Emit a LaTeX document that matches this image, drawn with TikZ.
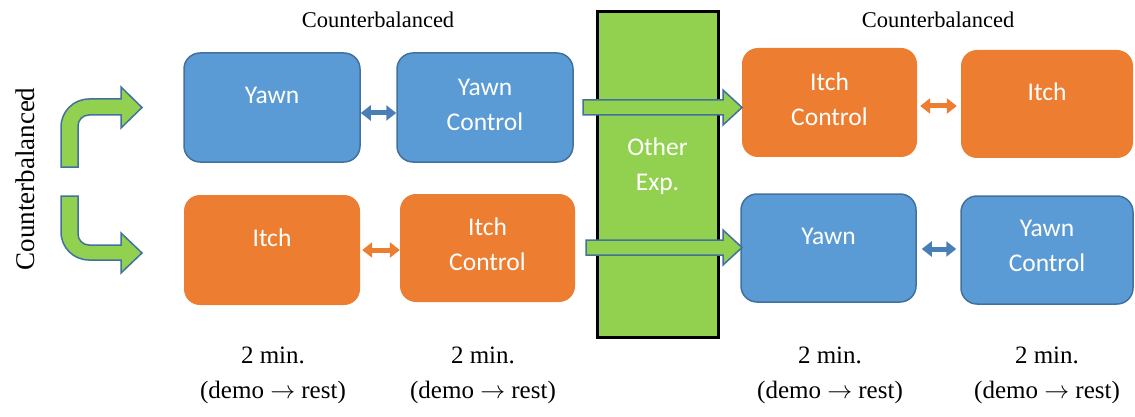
\documentclass[tikz,border=0pt]{standalone}
\usepackage{fontspec}
\setmainfont{Liberation Serif}
\newfontfamily\boxfont{Carlito}
\usetikzlibrary{arrows.meta,calc}
\definecolor{bfill}{HTML}{5B9BD5}
\definecolor{bline}{HTML}{41719C}
\definecolor{barr}{HTML}{4A7FB5}
\definecolor{ofill}{HTML}{ED7D31}
\definecolor{gfill}{HTML}{92D050}
\begin{document}
\begin{tikzpicture}[x=1pt,y=-1pt,
  box/.style={rounded corners=16pt, inner sep=0pt},
  bluebox/.style={box, fill=bfill, draw=bline, line width=1.5pt},
  orangebox/.style={box, fill=ofill},
  boxtxt/.style={text=white, align=center, inner sep=0pt, font=\boxfont\fontsize{25.5}{35}\selectfont},
  serif/.style={align=center, inner sep=0pt, font=\fontsize{25}{35}\selectfont},
  toptxt/.style={inner sep=0pt, font=\fontsize{22.5}{26}\selectfont},
  dbl/.style={line width=5pt, {Triangle[length=10pt,width=15pt]}-{Triangle[length=10pt,width=15pt]}},
  garrow/.style={fill=gfill, draw=bline, line width=1.5pt, line join=miter}
]
\useasboundingbox (0,0) rectangle (1135,417);

% headings
\node[toptxt] (H1) at (378,20) {Counterbalanced};
\node[toptxt] (H2) at (938,20) {Counterbalanced};
\node[inner sep=0pt, font=\fontsize{27}{30}\selectfont, rotate=90] (H3) at (25,179) {Counterbalanced};

% bent arrows
\draw[garrow] (61,167) -- (61,127) .. controls (61,111.5) and (73.5,99) .. (89,99)
  -- (121,99) -- (121,87) -- (142,107.5) -- (121,128) -- (121,115) -- (89,115)
  .. controls (82.9,115) and (78,119.9) .. (78,126) -- (78,167) -- cycle;
\draw[garrow] (61,196) -- (61,232) .. controls (61,247.5) and (73.5,260) .. (89,260)
  -- (121,260) -- (121,273) -- (142,253) -- (121,233) -- (121,245) -- (89,245)
  .. controls (82.9,245) and (78,240.1) .. (78,234) -- (78,196) -- cycle;

% boxes left
\node[bluebox, minimum width=176pt, minimum height=109pt,
  label={[boxtxt, yshift=12.5pt]center:Yawn}] (B1) at (272,107.5) {};
\node[bluebox, minimum width=176pt, minimum height=109pt,
  label={[boxtxt, yshift=3pt]center:Yawn\\Control}] (B2) at (485,107.5) {};
\node[orangebox, minimum width=176pt, minimum height=110pt,
  label={[boxtxt, yshift=12pt]center:Itch}] (B3) at (272,250) {};
\node[orangebox, minimum width=175pt, minimum height=108pt,
  label={[boxtxt, yshift=3.5pt]center:Itch\\Control}] (B4) at (487.5,248) {};

% boxes right
\node[orangebox, minimum width=175pt, minimum height=109pt,
  label={[boxtxt, yshift=3pt]center:Itch\\Control}] (B5) at (829.5,102.5) {};
\node[orangebox, minimum width=172pt, minimum height=108pt,
  label={[boxtxt, yshift=12pt]center:Itch}] (B6) at (1047,104) {};
\node[bluebox, minimum width=175pt, minimum height=108pt,
  label={[boxtxt, yshift=12pt]center:Yawn}] (B7) at (828.5,248) {};
\node[bluebox, minimum width=172pt, minimum height=108pt,
  label={[boxtxt, yshift=4pt]center:Yawn\\Control}] (B8) at (1047,250) {};

% green box
\node[fill=gfill, draw=black, line width=3pt, minimum width=121pt, minimum height=325pt,
  label={[boxtxt, yshift=8pt]center:Other\\Exp.}] (G) at (657.5,174.5) {};

% double arrows
\draw[dbl, barr] ([yshift=-5.5pt]B1.east) -- ([yshift=-5.5pt]B1.east -| B2.west);
\draw[dbl, ofill] ([xshift=2pt]B3.east) -- (B3.east -| B4.west);
\draw[dbl, ofill] ([xshift=3pt,yshift=-3.5pt]B5.east) -- ([xshift=-4pt,yshift=-3.5pt]B5.east -| B6.west);
\draw[dbl, barr] ([xshift=5pt,yshift=-1pt]B7.east) -- ([xshift=-4pt,yshift=-1pt]B7.east -| B8.west);

% block arrows through green box
\draw[garrow] (583,100) -- (723,100) -- (723,90) -- (742,107.5) -- (723,125) -- (723,115) -- (583,115) -- cycle;
\draw[garrow] (586,240) -- (723,240) -- (723,230) -- (742,247.5) -- (723,265) -- (723,255) -- (586,255) -- cycle;

% bottom texts
\node[serif] (T1) at (273,375) {2 min.\\(demo $\rightarrow$ rest)};
\node[serif] (T2) at (483,375) {2 min.\\(demo $\rightarrow$ rest)};
\node[serif] (T3) at (830,375) {2 min.\\(demo $\rightarrow$ rest)};
\node[serif] (T4) at (1047,375) {2 min.\\(demo $\rightarrow$ rest)};
\end{tikzpicture}
\end{document}
